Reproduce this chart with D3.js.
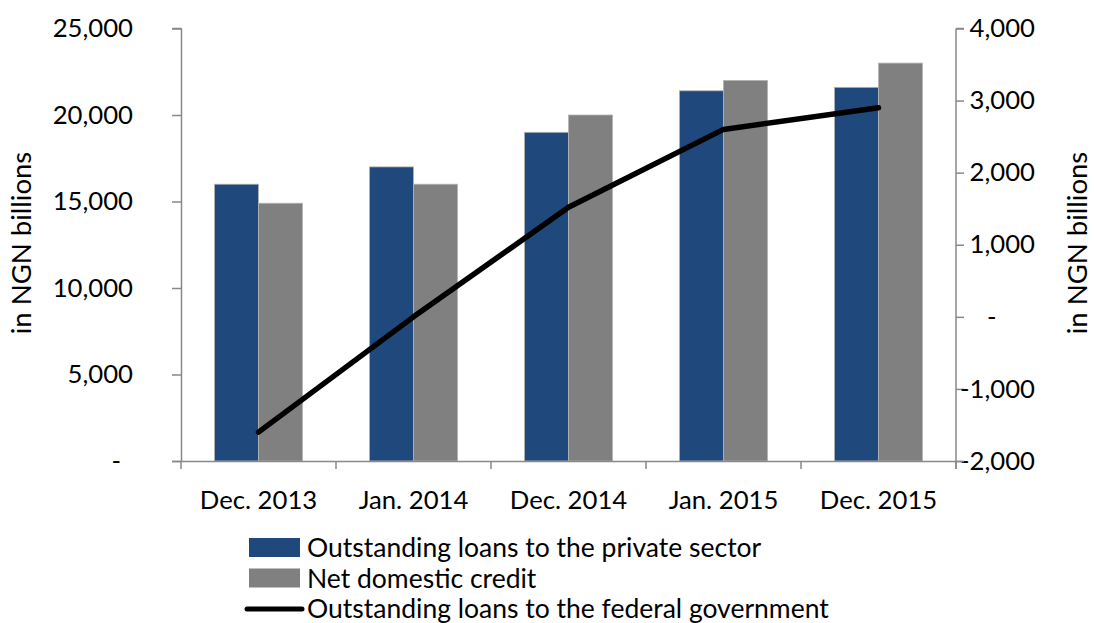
<!DOCTYPE html>
<html>
<head>
<meta charset="utf-8">
<script src="https://cdn.jsdelivr.net/npm/d3@7"></script>
<style>
  body { margin: 0; background: #fff; }
  svg { display: block; }
  text { font-family: Lato, 'Open Sans', sans-serif; fill: #000; }
</style>
</head>
<body>
<svg id="chart" width="1095" height="623"></svg>
<script>
// ========= Data ========= //
const categories = ['Dec. 2013', 'Jan. 2014', 'Dec. 2014', 'Jan. 2015', 'Dec. 2015'];
const privateLoans = [16000, 17000, 19000, 21400, 21600];
const netCredit = [14900, 16000, 20000, 22000, 23000];
const federalLoans = [-1600, 0, 1520, 2600, 2900];
const leftTicks = [0, 5000, 10000, 15000, 20000, 25000];
const rightTicks = [-2000, -1000, 0, 1000, 2000, 3000, 4000];
const seriesNames = [
  'Outstanding loans to the private sector',
  'Net domestic credit',
  'Outstanding loans to the federal government'
];

// ========= Setup ========= //
const colors = { private: '#1f497d', credit: '#808080', line: '#000', axis: '#898989' };
const margin = { top: 28.5, right: 139, bottom: 162, left: 181 };
const width = 1095, height = 623;
const svg = d3.select('#chart');

const x0 = d3.scaleBand()
  .domain(categories)
  .range([margin.left, width - margin.right])
  .padding(0);

const x1 = d3.scaleBand()
  .domain(['private', 'credit'])
  .range([0, x0.bandwidth()])
  .paddingInner(0)
  .paddingOuter(0.76);

const yLeft = d3.scaleLinear()
  .domain([0, 25000])
  .range([height - margin.bottom, margin.top]);

const yRight = d3.scaleLinear()
  .domain([-2000, 4000])
  .range([height - margin.bottom, margin.top]);

// accounting style: dash for zero, plain hyphen for negatives
const fmt = d => d === 0 ? '-' : d3.format(',')(d).replace('\u2212', '-');

// ========= Bars ========= //
const bars = categories.map((c, i) => ({ c, private: privateLoans[i], credit: netCredit[i] }));

svg.append('g')
  .selectAll('g')
  .data(bars)
  .join('g')
    .attr('transform', d => `translate(${x0(d.c)},0)`)
  .selectAll('rect')
  .data(d => ['private', 'credit'].map(k => ({ k, v: d[k] })))
  .join('rect')
    .attr('x', d => x1(d.k))
    .attr('y', d => yLeft(d.v))
    .attr('width', x1.bandwidth())
    .attr('height', d => yLeft(0) - yLeft(d.v))
    .attr('fill', d => colors[d.k])
    .attr('stroke', '#b4b4b4')
    .attr('stroke-width', 0.8);

// ========= Axes ========= //
const axisG = svg.append('g').attr('class', 'axes');

const leftAxis = axisG.append('g')
  .attr('transform', `translate(${margin.left},0)`)
  .call(d3.axisLeft(yLeft).tickValues(leftTicks).tickSize(9).tickPadding(39).tickFormat(fmt));

const rightAxis = axisG.append('g')
  .attr('transform', `translate(${width - margin.right},0)`)
  .call(d3.axisRight(yRight).tickValues(rightTicks).tickSize(8).tickPadding(71).tickFormat(fmt));

const bottomAxis = axisG.append('g')
  .attr('transform', `translate(0,${yLeft(0)})`)
  .call(d3.axisBottom(x0).tickSize(0).tickPadding(30));

// boundary ticks on the category axis
axisG.append('g')
  .selectAll('line')
  .data(categories.concat(['end']))
  .join('line')
    .attr('x1', (d, i) => i < categories.length ? x0(d) : x0(categories[i - 1]) + x0.bandwidth())
    .attr('x2', (d, i) => i < categories.length ? x0(d) : x0(categories[i - 1]) + x0.bandwidth())
    .attr('y1', yLeft(0))
    .attr('y2', yLeft(0) + 8)
    .attr('stroke', colors.axis)
    .attr('stroke-width', 1.5);

// extend baseline beyond plot like the source
bottomAxis.select('.domain')
  .attr('d', `M${margin.left - 9},0.5H${width - margin.right + 8}`);

axisG.selectAll('.domain, .tick line')
  .attr('stroke', colors.axis)
  .attr('stroke-width', 1.5);

leftAxis.select('.domain').attr('d', `M0.5,${yLeft(25000)}H-8.5M0.5,${yLeft(25000)}V${yLeft(0)}`);
rightAxis.select('.domain').attr('d', `M0,${yRight(4000)}H8M0,${yRight(4000)}V${yRight(-2000) + 8}`);

axisG.selectAll('.tick text')
  .attr('font-family', 'Lato, sans-serif')
  .attr('font-size', '25.7px')
  .attr('fill', '#000');

leftAxis.selectAll('.tick text')
  .filter(d => d === 0)
  .attr('dx', '-12');

rightAxis.selectAll('.tick text')
  .attr('text-anchor', 'end');
rightAxis.selectAll('.tick text')
  .filter(d => d === 0)
  .attr('text-anchor', 'start')
  .attr('x', 31);

// ========= Federal government line ========= //
const line = d3.line()
  .x((d, i) => x0(categories[i]) + x0.bandwidth() / 2)
  .y(d => yRight(d));

svg.append('path')
  .datum(federalLoans)
  .attr('d', line)
  .attr('fill', 'none')
  .attr('stroke', colors.line)
  .attr('stroke-width', 5.5)
  .attr('stroke-linecap', 'round')
  .attr('stroke-linejoin', 'round');

// ========= Axis titles ========= //
const yMid = 243;
svg.append('text')
  .attr('transform', `translate(31,${yMid}) rotate(-90)`)
  .attr('text-anchor', 'middle')
  .attr('font-size', '27.5px')
  .text('in NGN billions');

svg.append('text')
  .attr('transform', `translate(1087,${yMid}) rotate(-90)`)
  .attr('text-anchor', 'middle')
  .attr('font-size', '27.5px')
  .text('in NGN billions');

// ========= Legend ========= //
const legend = svg.append('g').attr('transform', 'translate(249,548)');
const rows = [
  { name: seriesNames[0], type: 'rect', color: colors.private },
  { name: seriesNames[1], type: 'rect', color: colors.credit },
  { name: seriesNames[2], type: 'line', color: colors.line }
];
const row = legend.selectAll('g')
  .data(rows)
  .join('g')
    .attr('transform', (d, i) => `translate(0,${i * 30.5})`);

row.filter(d => d.type === 'rect')
  .append('rect')
    .attr('x', 0)
    .attr('y', -10)
    .attr('width', 51)
    .attr('height', 19)
    .attr('fill', d => d.color);

row.filter(d => d.type === 'line')
  .append('line')
    .attr('x1', -2)
    .attr('x2', 53)
    .attr('stroke', d => d.color)
    .attr('stroke-width', 5)
    .attr('stroke-linecap', 'round');

row.append('text')
  .attr('x', 58)
  .attr('dy', '0.35em')
  .attr('font-size', '26.5px')
  .text(d => d.name);
</script>
</body>
</html>
